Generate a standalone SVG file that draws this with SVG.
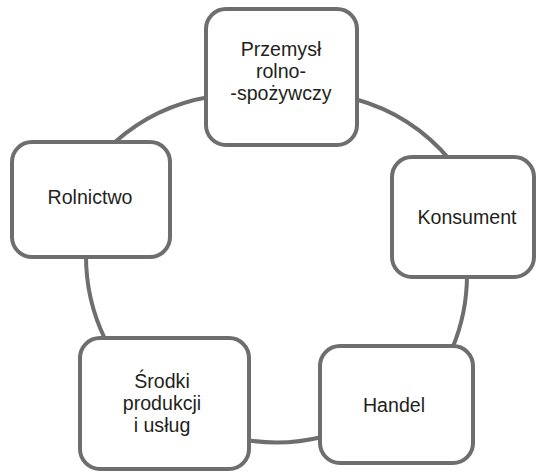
<svg xmlns="http://www.w3.org/2000/svg" width="537" height="474" viewBox="0 0 537 474">
<style>
.box{fill:#ffffff;stroke:#6e6e6e;stroke-width:4}
.arc{fill:none;stroke:#6e6e6e;stroke-width:4}
.lbl{font-family:"Liberation Sans",Arial,sans-serif;font-size:19.6px;fill:#231f20;text-anchor:middle}
</style>
<rect width="537" height="474" fill="#ffffff"/>
<g id="connectors">
<path class="arc" d="M 355 99 A 190 190 0 0 1 450 160"/>
<path class="arc" d="M 467 275 A 190 190 0 0 1 452 349"/>
<path class="arc" d="M 322 437 A 190 190 0 0 1 246 440"/>
<path class="arc" d="M 105 339 A 190 190 0 0 1 86 255"/>
<path class="arc" d="M 115 142 A 190 190 0 0 1 209 97"/>
</g>
<g id="node-przemysl">
<rect class="box" x="206" y="9" width="151" height="136" rx="20"/>
<text class="lbl" x="281" y="56">Przemysł</text>
<text class="lbl" x="281" y="78">rolno-</text>
<text class="lbl" x="281" y="100">-spożywczy</text>
</g>
<g id="node-konsument">
<rect class="box" x="392" y="157" width="142" height="120" rx="20"/>
<text class="lbl" x="467" y="224">Konsument</text>
</g>
<g id="node-handel">
<rect class="box" x="320" y="346" width="153" height="117" rx="20"/>
<text class="lbl" x="394" y="412">Handel</text>
</g>
<g id="node-srodki">
<rect class="box" x="80" y="338" width="169" height="131" rx="20"/>
<text class="lbl" x="162" y="388">Środki</text>
<text class="lbl" x="162" y="410">produkcji</text>
<text class="lbl" x="162" y="432">i usług</text>
</g>
<g id="node-rolnictwo">
<rect class="box" x="12" y="142" width="158" height="115" rx="20"/>
<text class="lbl" x="90" y="204">Rolnictwo</text>
</g>
</svg>
